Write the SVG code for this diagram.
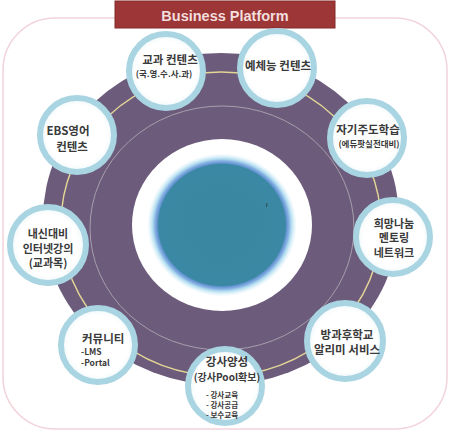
<svg xmlns="http://www.w3.org/2000/svg" width="450" height="433" viewBox="0 0 450 433">
<defs>
<radialGradient id="core" cx="0.5" cy="0.5" r="0.5">
<stop offset="0" stop-color="#3a87a1"/>
<stop offset="0.705" stop-color="#3a88a3"/>
<stop offset="0.72" stop-color="#6494d2"/>
<stop offset="0.745" stop-color="#86b0e2"/>
<stop offset="0.77" stop-color="#b2ddf0"/>
<stop offset="0.80" stop-color="#e2f3fa"/>
<stop offset="0.83" stop-color="#ffffff"/>
<stop offset="1" stop-color="#ffffff"/>
</radialGradient>
<radialGradient id="nodefill" cx="0.5" cy="0.5" r="0.5">
<stop offset="0.8" stop-color="#ffffff"/>
<stop offset="1" stop-color="#eef7fa"/>
</radialGradient>
</defs>
<style>
.node circle{fill:url(#nodefill);stroke:#a9d4e2;stroke-width:6}
.t{font-family:"Noto Sans CJK KR","Noto Sans",sans-serif;font-weight:bold;fill:#3a3a3a;text-anchor:middle}
.m{font-size:11.5px}
.m3{font-size:11px}
.s{font-size:8.5px}
.xs{font-size:7.5px}
.l{text-anchor:start}
</style>
<rect x="0" y="0" width="450" height="433" fill="#ffffff"/>
<rect x="3" y="18" width="444" height="411" rx="52" ry="52" fill="#ffffff" stroke="#f2d3da" stroke-width="1.5"/>
<g id="title">
<rect x="115" y="1" width="220" height="27" fill="#9d3636" stroke="#832828" stroke-width="1"/>
<text x="225" y="21" font-family="Liberation Sans, Arial, sans-serif" font-weight="bold" font-size="14.5" fill="#f3dede" text-anchor="middle">Business Platform</text>
</g>
<g id="platform">
<ellipse cx="221" cy="219" rx="178" ry="166" fill="#6c5b7b"/>
<ellipse cx="222" cy="228" rx="132" ry="122" fill="none" stroke="#a79fab" stroke-width="1"/>
<ellipse cx="222" cy="225" rx="90" ry="86" fill="url(#core)"/>
<path d="M267 203 l-0.6 4" stroke="#2a3a40" stroke-width="0.8"/>
</g>
<g id="connectors">
<ellipse cx="221" cy="224" rx="160" ry="152" fill="none" stroke="#e3d595" stroke-width="1.5"/>
</g>
<g id="n1" class="node">
<circle cx="166" cy="71" r="37"/>
<text class="t m" x="170" y="64">교과 컨텐츠</text>
<text class="t s" x="164" y="77">(국.영.수.사.과)</text>
</g>
<g id="n2" class="node">
<circle cx="277" cy="68" r="37"/>
<text class="t m" x="278" y="70">예체능 컨텐츠</text>
</g>
<g id="n3" class="node">
<circle cx="367" cy="138" r="37"/>
<text class="t m" x="368" y="134">자기주도학습</text>
<text class="t s" x="369" y="147">(에듀팟실전대비)</text>
</g>
<g id="n4" class="node">
<circle cx="393" cy="237" r="37"/>
<text class="t m3" x="394" y="227.5">희망나눔</text>
<text class="t m3" x="394" y="242">멘토링</text>
<text class="t m3" x="394" y="256.5">네트워크</text>
</g>
<g id="n5" class="node">
<circle cx="345" cy="341" r="38"/>
<text class="t m" x="347" y="339">방과후학교</text>
<text class="t m" x="347" y="354">알리미 서비스</text>
</g>
<g id="n6" class="node">
<circle cx="225" cy="386" r="37"/>
<text class="t m" x="227" y="366">강사양성</text>
<text class="t" font-size="10" x="227" y="381">(강사Pool확보)</text>
<text class="t xs" x="222" y="398">- 강사교육</text>
<text class="t xs" x="222" y="408">- 강사공급</text>
<text class="t xs" x="222" y="418">- 보수교육</text>
</g>
<g id="n7" class="node">
<circle cx="98" cy="345" r="37"/>
<text class="t m l" x="82" y="343">커뮤니티</text>
<text class="t s l" x="81" y="355">-LMS</text>
<text class="t s l" x="81" y="366">-Portal</text>
</g>
<g id="n8" class="node">
<circle cx="48" cy="245" r="38"/>
<text class="t m3" x="48" y="238">내신대비</text>
<text class="t m3" x="48" y="252.5">인터넷강의</text>
<text class="t m3" x="48" y="267">(교과목)</text>
</g>
<g id="n9" class="node">
<circle cx="77" cy="135" r="37"/>
<text class="t m" x="68" y="135">EBS영어</text>
<text class="t m" x="72" y="151">컨텐츠</text>
</g>
</svg>
